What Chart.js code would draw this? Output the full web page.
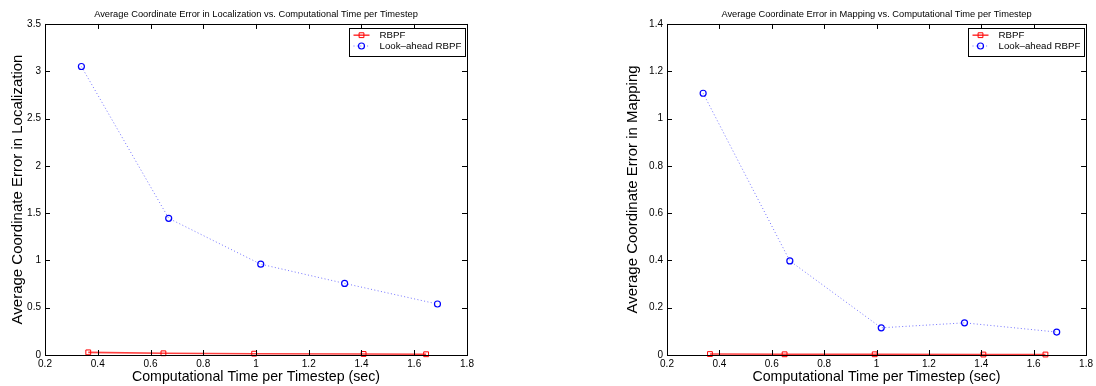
<!DOCTYPE html>
<html>
<head>
<meta charset="utf-8">
<script src="https://cdn.jsdelivr.net/npm/chart.js@4"></script>
<style>
  body { margin: 0; background: #fff; }
  .wrap { position: absolute; top: 0; width: 548px; height: 386px; }
</style>
</head>
<body>
<div class="wrap" style="left:0"><canvas id="locChart" width="548" height="386"></canvas></div>
<div class="wrap" style="left:548px"><canvas id="mapChart" width="548" height="386"></canvas></div>
<script>
'use strict';

// computational time per timestep (sec)
let rbpfTime = [0.364, 0.649, 0.993, 1.408, 1.645];
let lookTime = [0.338, 0.669, 1.018, 1.336, 1.688];

// localization error
let rbpfLoc = [0.028, 0.018, 0.014, 0.011, 0.008];
let lookLoc = [3.05, 1.445, 0.96, 0.757, 0.539];

// mapping error
let rbpfMap = [0.004, 0.003, 0.003, 0.002, 0.002];
let lookMap = [1.107, 0.398, 0.115, 0.136, 0.097];

let xTicks = [0.2, 0.4, 0.6, 0.8, 1, 1.2, 1.4, 1.6, 1.8];
let locTicks = [0, 0.5, 1, 1.5, 2, 2.5, 3, 3.5];
let mapTicks = [0, 0.2, 0.4, 0.6, 0.8, 1, 1.2, 1.4];

let seriesNames = ['RBPF', 'Look\u2013ahead RBPF'];

let fontFam = "'Liberation Sans', Arial, Helvetica, sans-serif";
let tickFont = { family: fontFam, size: 10 };

function toPoints(xs, ys) {
  return xs.map((x, i) => ({ x: x, y: ys[i] }));
}

// matlab like box, inward ticks and framed legend
let matlabBox = {
  id: 'matlabBox',
  afterDraw(chart) {
    let ctx = chart.ctx;
    let a = chart.chartArea;
    let xs = chart.scales.x;
    let ys = chart.scales.y;
    ctx.save();
    ctx.strokeStyle = '#000';
    ctx.lineWidth = 1;
    ctx.beginPath();
    xs.ticks.forEach(t => {
      let px = Math.round(xs.getPixelForValue(t.value)) + 0.5;
      ctx.moveTo(px, a.bottom); ctx.lineTo(px, a.bottom - 5);
      ctx.moveTo(px, a.top); ctx.lineTo(px, a.top + 5);
    });
    ys.ticks.forEach(t => {
      let py = Math.round(ys.getPixelForValue(t.value)) + 0.5;
      ctx.moveTo(a.left, py); ctx.lineTo(a.left + 5, py);
      ctx.moveTo(a.right, py); ctx.lineTo(a.right - 5, py);
    });
    ctx.stroke();
    ctx.strokeRect(Math.round(a.left) + 0.5, Math.round(a.top) + 0.5,
      Math.round(a.right - a.left), Math.round(a.bottom - a.top));

    // legend
    let sets = chart.data.datasets;
    ctx.font = '9.7px ' + fontFam;
    let tw = Math.max(...sets.map(d => ctx.measureText(d.label).width));
    let w = Math.round(30 + tw + 4.5);
    let h = 28;
    let x0 = Math.round(a.right - 2 - w) + 0.5;
    let y0 = Math.round(a.top + 4) + 0.5;
    ctx.fillStyle = '#fff';
    ctx.fillRect(x0, y0, w, h);
    ctx.strokeStyle = '#000';
    ctx.strokeRect(x0, y0, w, h);
    sets.forEach((d, i) => {
      let yy = y0 + 6.7 + i * 10.8;
      ctx.save();
      ctx.strokeStyle = d.borderColor;
      ctx.lineWidth = d.borderWidth;
      ctx.setLineDash(d.borderDash || []);
      ctx.beginPath();
      ctx.moveTo(x0 + 4, yy); ctx.lineTo(x0 + 20, yy);
      ctx.stroke();
      ctx.setLineDash([]);
      ctx.strokeStyle = d.pointBorderColor;
      ctx.fillStyle = 'rgba(0,0,0,0)';
      ctx.lineWidth = d.pointBorderWidth;
      Chart.helpers.drawPoint(ctx, { pointStyle: d.pointStyle, radius: d.pointRadius, borderWidth: d.pointBorderWidth, rotation: 0 }, x0 + 12, yy);
      ctx.restore();
      ctx.fillStyle = '#000';
      ctx.textBaseline = 'middle';
      ctx.textAlign = 'left';
      ctx.fillText(d.label, x0 + 30, yy);
    });
    ctx.restore();
  }
};

function makeChart(id, title, yTitle, rbpfY, lookY, yTicks, yMax, pad, yWidth) {
  let ctx = document.getElementById(id).getContext('2d');
  return new Chart(ctx, {
    type: 'line',
    data: {
      datasets: [{
        label: seriesNames[0],
        data: toPoints(rbpfTime, rbpfY),
        borderColor: 'rgba(255, 0, 0, 0.75)',
        borderWidth: 1.6,
        pointStyle: 'rect',
        pointRadius: 3.4,
        pointBorderColor: '#ff0000',
        pointBorderWidth: 1,
        pointBackgroundColor: 'rgba(0,0,0,0)',
        clip: false
      }, {
        label: seriesNames[1],
        data: toPoints(lookTime, lookY),
        borderColor: 'rgba(0, 0, 255, 0.55)',
        borderWidth: 1,
        borderDash: [1, 2.4],
        pointStyle: 'circle',
        pointRadius: 3,
        pointBorderColor: '#0000ff',
        pointBorderWidth: 1.2,
        pointBackgroundColor: 'rgba(0,0,0,0)',
        clip: false
      }]
    },
    options: {
      responsive: false,
      animation: false,
      layout: { padding: pad },
      plugins: {
        legend: { display: false },
        tooltip: { enabled: false },
        title: {
          display: true,
          text: title,
          fullSize: false,
          color: '#000',
          font: { family: fontFam, size: 9.3, weight: 'normal' },
          padding: { top: 8.4, bottom: 4.4 }
        }
      },
      scales: {
        x: {
          type: 'linear',
          min: 0.2,
          max: 1.8,
          afterBuildTicks: s => { s.ticks = xTicks.map(v => ({ value: v })); },
          afterFit: s => { s.height = 31; },
          grid: { display: false, drawTicks: false },
          border: { display: false },
          ticks: { color: '#000', font: tickFont, padding: 3, maxRotation: 0, autoSkip: false, callback: v => String(v) },
          title: { display: true, text: 'Computational Time per Timestep (sec)', color: '#000', font: { family: fontFam, size: 14.2 }, padding: 0 }
        },
        y: {
          min: 0,
          max: yMax,
          afterBuildTicks: s => { s.ticks = yTicks.map(v => ({ value: v })); },
          afterFit: s => { s.width = yWidth; },
          grid: { display: false, drawTicks: false },
          border: { display: false },
          ticks: { color: '#000', font: tickFont, padding: 4, callback: v => String(v) },
          title: { display: true, text: yTitle, color: '#000', font: { family: fontFam, size: 15 }, padding: 0 }
        }
      }
    },
    plugins: [matlabBox]
  });
}

makeChart('locChart',
  'Average Coordinate Error in Localization vs. Computational Time per Timestep',
  'Average Coordinate Error in Localization',
  rbpfLoc, lookLoc, locTicks, 3.5,
  { left: 9.3, right: 81, top: 0, bottom: 0 }, 35.7);

makeChart('mapChart',
  'Average Coordinate Error in Mapping vs. Computational Time per Timestep',
  'Average Coordinate Error in Mapping',
  rbpfMap, lookMap, mapTicks, 1.4,
  { left: 76, right: 8, top: 0, bottom: 0 }, 43);
</script>
</body>
</html>
